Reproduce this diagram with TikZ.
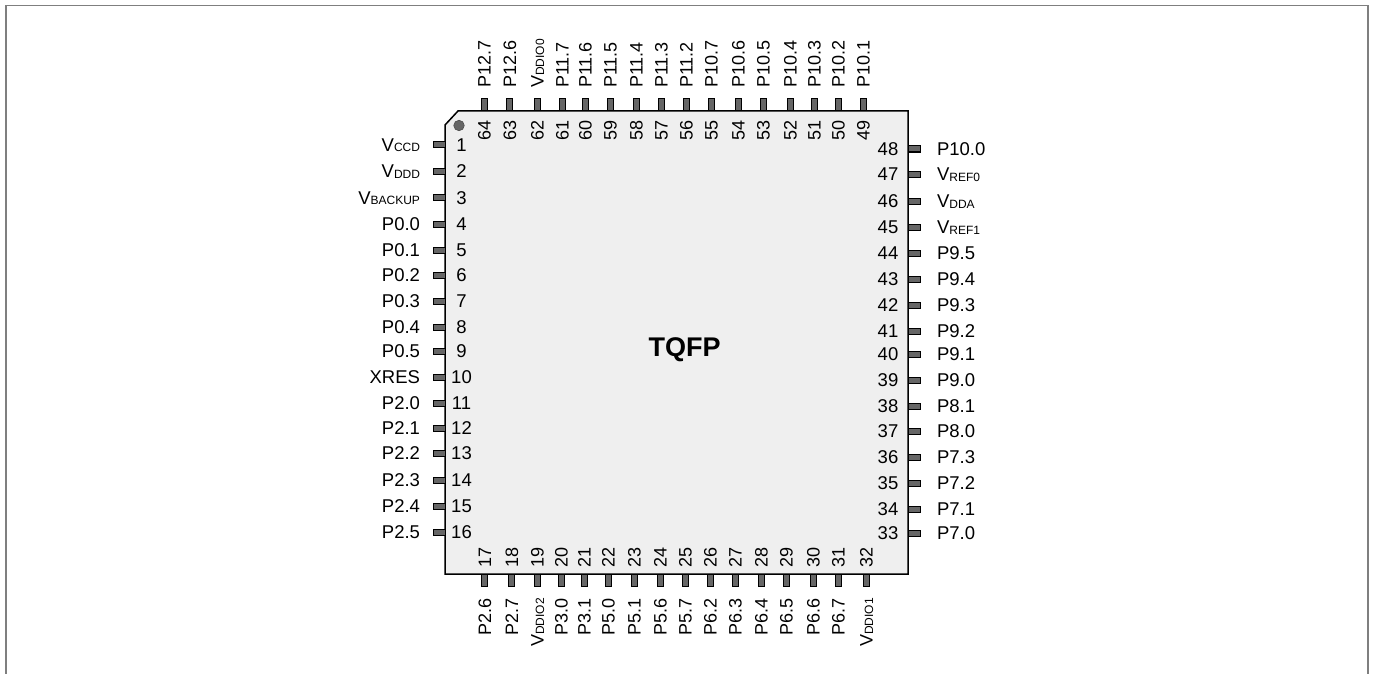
\documentclass[tikz,border=0pt]{standalone}
\usepackage{fontspec}
\setmainfont{Liberation Sans}
\usepackage{tikz}
\definecolor{framegray}{HTML}{7F7F7F}
\definecolor{chipfill}{HTML}{EFEFEF}
\definecolor{pinfill}{HTML}{666666}
\newcommand{\vsub}[1]{V\raisebox{-0.5pt}{\fontsize{12}{12}\selectfont #1}}
\tikzset{
  txt/.style={inner sep=0pt,outer sep=0pt,text height=13pt,text depth=0pt,font=\fontsize{18.5}{18.5}\selectfont},
  vtxt/.style={txt,rotate=90,font=\fontsize{18}{18}\selectfont},
  pinh/.style={draw=black,fill=pinfill,line width=1pt,minimum width=12pt,minimum height=6pt,inner sep=0pt,outer sep=0pt},
  pinv/.style={draw=black,fill=pinfill,line width=1pt,minimum width=6pt,minimum height=12pt,inner sep=0pt,outer sep=0pt}
}
\begin{document}
\begin{tikzpicture}[x=1pt,y=-1pt]
   \useasboundingbox (0,0) rectangle (1373,674);
   \draw[framegray,line width=1.5pt] (6,674) -- (6,5.5) -- (1368,5.5) -- (1368,674);
   \draw[black,fill=chipfill,line width=1.5pt] (445,125) -- (458,111) -- (908,111) -- (908,574) -- (445,574) -- cycle;
   \node[circle,draw=black!70,fill=pinfill,line width=0.6pt,minimum size=10.5pt,inner sep=0pt] (dot) at (459,125.5) {};
   \node[txt,text height=19pt,font=\fontsize{27}{27}\bfseries\selectfont] (tqfp) at (684.5,347) {TQFP};
   \foreach \ypos/\num/\name in {145/1/\vsub{CCD},171/2/\vsub{DDD},197.5/3/\vsub{BACKUP},224/4/P0.0,
       250/5/P0.1,275/6/P0.2,301/7/P0.3,327/8/P0.4,351/9/P0.5,377/10/XRES,403/11/P2.0,
       428/12/P2.1,453/13/P2.2,480/14/P2.3,506/15/P2.4,532/16/P2.5} {
     \node[pinh] (pin\num) at (439,\ypos) {};
     \node[txt] (num\num) at (461.5,\ypos) {\num};
     \node[txt,anchor=east] (name\num) at (420,\ypos) {\name};
   }
   \foreach \ypos/\num/\name in {149/48/P10.0,174/47/\vsub{REF0},201/46/\vsub{DDA},227/45/\vsub{REF1},
       253/44/P9.5,279/43/P9.4,305/42/P9.3,331/41/P9.2,354/40/P9.1,380/39/P9.0,406/38/P8.1,
       431/37/P8.0,457/36/P7.3,483/35/P7.2,509/34/P7.1,533/33/P7.0} {
     \node[pinh] (pin\num) at (914.5,\ypos) {};
     \node[txt] (num\num) at (888,\ypos) {\num};
     \node[txt,anchor=west] (name\num) at (937,\ypos) {\name};
   }
   \foreach \xpos/\num/\name in {484/64/P12.7,509.5/63/P12.6,537/62/\vsub{DDIO0},562/61/P11.7,585/60/P11.6,
       610/59/P11.5,636/58/P11.4,661/57/P11.3,686/56/P11.2,711/55/P10.7,738/54/P10.6,763/53/P10.5,
       790/52/P10.4,814/51/P10.3,838/50/P10.2,863/49/P10.1} {
     \node[pinv] (pin\num) at (\xpos,104.5) {};
     \node[vtxt] (num\num) at (\xpos,130) {\num};
     \node[vtxt,anchor=west] (name\num) at (\xpos,88) {\name};
   }
   \foreach \xpos/\num/\name in {484.5/17/P2.6,511.5/18/P2.7,537/19/\vsub{DDIO2},561/20/P3.0,584/21/P3.1,
       608/22/P5.0,634/23/P5.1,660/24/P5.6,685/25/P5.7,710/26/P6.2,735/27/P6.3,761/28/P6.4,
       786/29/P6.5,813/30/P6.6,838/31/P6.7,866/32/\vsub{DDIO1}} {
     \node[pinv] (pin\num) at (\xpos,580) {};
     \node[vtxt] (num\num) at (\xpos,557) {\num};
     \node[vtxt,anchor=east] (name\num) at (\xpos,598) {\name};
   }
\end{tikzpicture}
\end{document}
